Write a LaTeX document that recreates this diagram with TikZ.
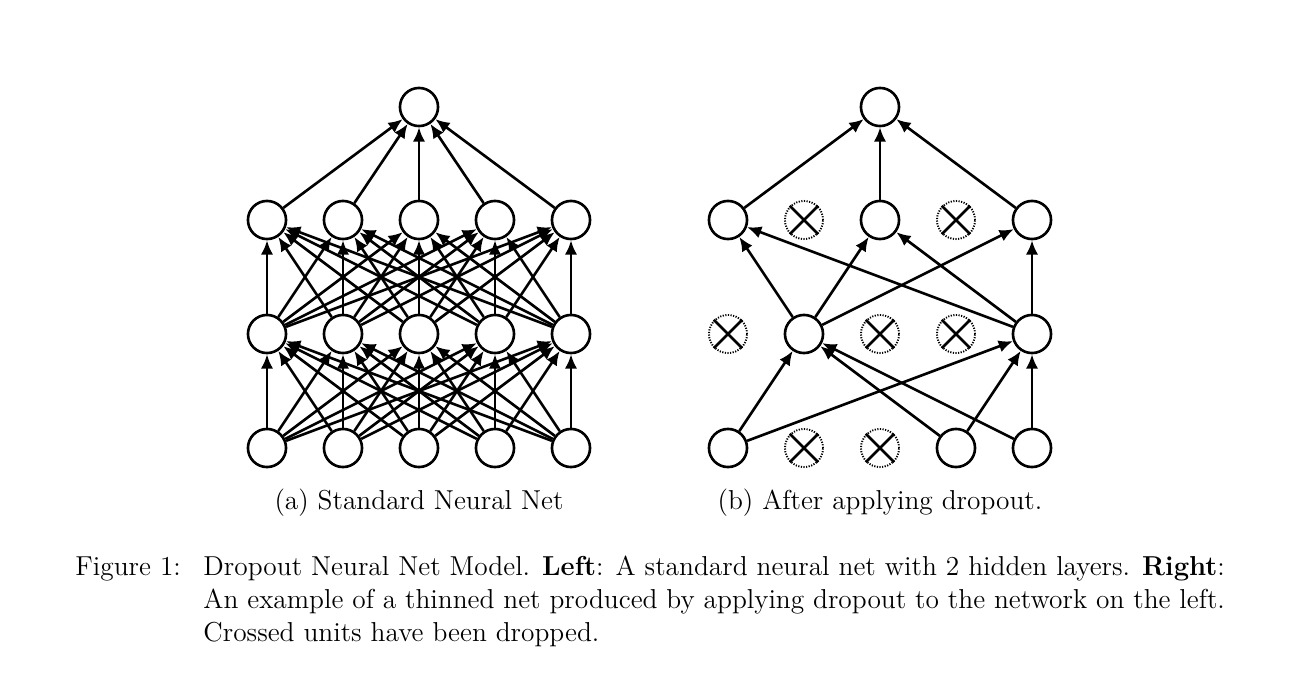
\documentclass[tikz,border=0pt]{standalone}
\usetikzlibrary{arrows.meta}
\begin{document}
\begin{tikzpicture}[x=0.42pt,y=-0.42pt,
  unit/.style={circle,draw,line width=1.1pt,minimum size=16pt,inner sep=0pt},
  dropunit/.style={circle,draw,dash pattern=on 0.5pt off 0.6pt,line width=0.8pt,minimum size=16pt,inner sep=0pt},
  crossline/.style={line width=1.1pt},
  conn/.style={-{Latex[length=6pt,width=5.2pt]},line width=1.1pt},
  lbl/.style={font=\fontsize{11.5}{13.9}\selectfont,inner sep=0pt}]
\useasboundingbox (0,0) rectangle (1312,700);
% ---------- left: standard net ----------
\foreach \i/\x in {1/267,2/343,3/419,4/495,5/571}{
  \node[unit] (La\i) at (\x,448) {};
  \node[unit] (Lb\i) at (\x,334) {};
  \node[unit] (Lc\i) at (\x,220) {};
}
\node[unit] (Lo) at (419,107) {};
\foreach \i in {1,...,5}{
  \foreach \j in {1,...,5}{
    \draw[conn] (La\i) -- (Lb\j);
    \draw[conn] (Lb\i) -- (Lc\j);
  }
  \draw[conn] (Lc\i) -- (Lo);
}
% ---------- right: after dropout ----------
\node[unit] (Ro) at (880,107) {};
\node[unit] (Rc1) at (728,220) {};
\node[dropunit] (Rc2) at (804,220) {};
\node[unit] (Rc3) at (880,220) {};
\node[dropunit] (Rc4) at (956,220) {};
\node[unit] (Rc5) at (1032,220) {};
\node[dropunit] (Rb1) at (728,334) {};
\node[unit] (Rb2) at (804,334) {};
\node[dropunit] (Rb3) at (880,334) {};
\node[dropunit] (Rb4) at (956,334) {};
\node[unit] (Rb5) at (1032,334) {};
\node[unit] (Ra1) at (728,448) {};
\node[dropunit] (Ra2) at (804,448) {};
\node[dropunit] (Ra3) at (880,448) {};
\node[unit] (Ra4) at (956,448) {};
\node[unit] (Ra5) at (1032,448) {};
\foreach \n in {Rc2,Rc4,Rb1,Rb3,Rb4,Ra2,Ra3}{
  \draw[crossline] (\n.north west) -- (\n.south east);
  \draw[crossline] (\n.north east) -- (\n.south west);
}
\foreach \a in {1,4,5}{
  \draw[conn] (Ra\a) -- (Rb2);
  \draw[conn] (Ra\a) -- (Rb5);
}
\foreach \b in {2,5}{
  \draw[conn] (Rb\b) -- (Rc1);
  \draw[conn] (Rb\b) -- (Rc3);
  \draw[conn] (Rb\b) -- (Rc5);
}
\foreach \c in {1,3,5}{
  \draw[conn] (Rc\c) -- (Ro);
}
% ---------- captions ----------
\node[lbl,anchor=base] (capa) at (419,509) {(a) Standard Neural Net};
\node[lbl,anchor=base] (capb) at (880,509) {(b) After applying dropout.};
\node[lbl,anchor=base west] (fig) at (75,575) {Figure 1:};
\node[lbl,anchor=base west,text width=429pt,align=justify] (body) at (203,575)
  {Dropout Neural Net Model. \textbf{Left}: A standard neural net with 2 hidden layers. \textbf{Right}:\linebreak
   An example of a thinned net produced by applying dropout to the network on the left.\linebreak
   Crossed units have been dropped.};
\end{tikzpicture}
\end{document}
